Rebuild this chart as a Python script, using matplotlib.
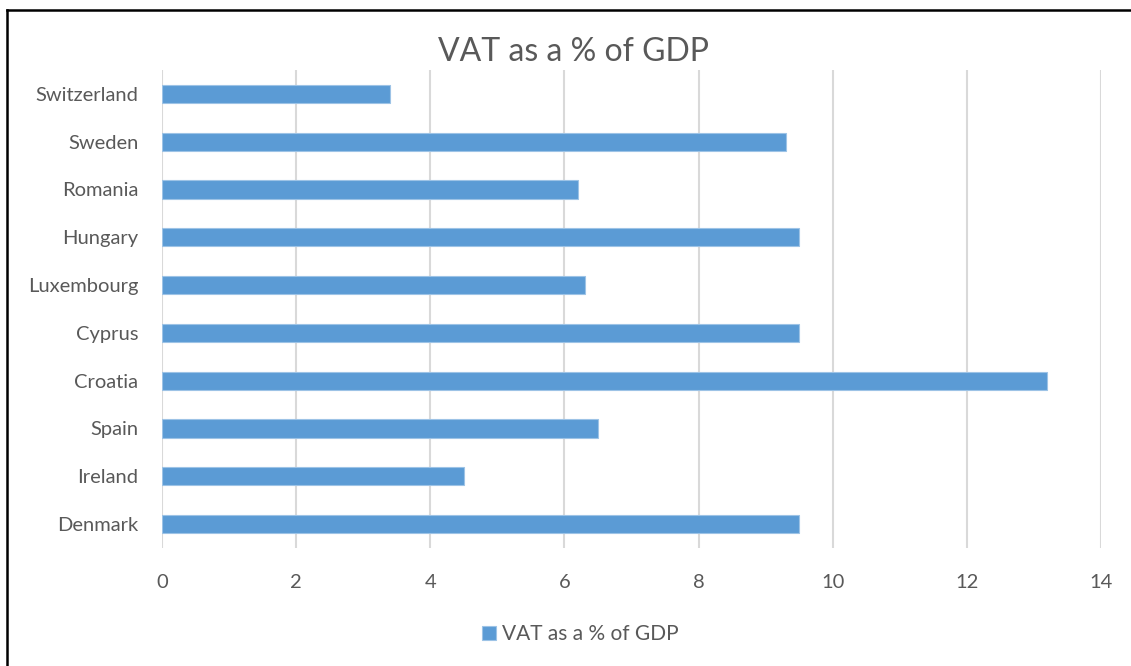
import matplotlib.pyplot as plt
from matplotlib.lines import Line2D

plt.rcParams['font.family'] = ['Lato', 'DejaVu Sans']

countries = ['Denmark', 'Ireland', 'Spain', 'Croatia', 'Cyprus',
             'Luxembourg', 'Hungary', 'Romania', 'Sweden', 'Switzerland']
vat_share = [9.5, 4.5, 6.5, 13.2, 9.5, 6.3, 9.5, 6.2, 9.3, 3.4]
x_ticks = [0, 2, 4, 6, 8, 10, 12, 14]

grey = '#595959'
blue = '#5B9BD5'

fig = plt.figure(figsize=(11.31, 6.66), dpi=100)
ax = fig.add_axes([0.1432, 0.1772, 0.8303, 0.7177])

pos = range(len(countries))
ax.barh(pos, vat_share, height=0.38, color=blue, edgecolor='#9DC3E6',
        linewidth=0.8, label='VAT as a % of GDP', zorder=3)

ax.set_xlim(0, 14)
ax.set_ylim(-0.5, len(countries) - 0.5)
ax.set_xticks(x_ticks)
ax.set_xticklabels([str(t) for t in x_ticks])
ax.set_yticks(list(pos))
ax.set_yticklabels(countries)
ax.tick_params(axis='both', length=0, colors=grey, labelsize=14.5)
ax.tick_params(axis='x', pad=19)
ax.tick_params(axis='y', pad=17)
ax.grid(axis='x', color='#d9d9d9', linewidth=1.5, zorder=0)
for s in ax.spines.values():
    s.set_visible(False)

fig.text(0.507, 0.922, 'VAT as a % of GDP', ha='center', va='center',
         fontsize=23, color=grey)

leg = fig.legend(loc='center', bbox_to_anchor=(0.513, 0.048), frameon=False,
                 fontsize=15, handlelength=0.65, handleheight=0.65,
                 handletextpad=0.3, labelcolor=grey)

# outer frame (left and top edges only)
fig.add_artist(Line2D([0.0066, 0.0066], [0, 0.985], color='black', lw=1.8,
                      transform=fig.transFigure))
fig.add_artist(Line2D([0.0066, 1], [0.985, 0.985], color='black', lw=1.8,
                      transform=fig.transFigure))

fig.savefig('out.png', dpi=100)
